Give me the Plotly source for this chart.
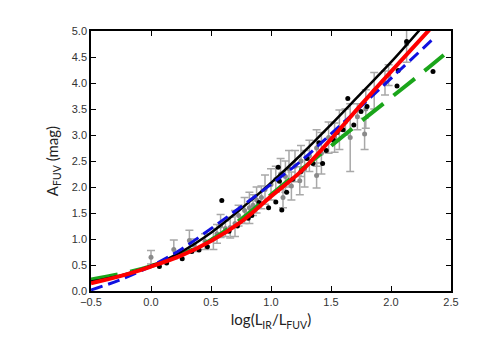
import plotly.graph_objects as go

# gray points with error bars: log(LIR/LFUV), A_FUV, error
gray_x = [0.00, 0.19, 0.32, 0.36, 0.45, 0.52, 0.55, 0.58, 0.62, 0.66, 0.70, 0.73,
          0.78, 0.82, 0.85, 0.88, 0.92, 0.95, 1.00, 1.04, 1.08, 1.10, 1.12, 1.15,
          1.17, 1.20, 1.24, 1.25, 1.28, 1.32, 1.38, 1.38, 1.42, 1.48, 1.53, 1.57,
          1.62, 1.66, 1.72, 1.78, 1.79, 1.86, 1.95, 1.98, 2.13]
gray_y = [0.65, 0.80, 0.97, 0.88, 0.95, 1.00, 1.10, 1.25, 1.20, 1.22, 1.30, 1.45,
          1.55, 1.60, 1.65, 1.75, 1.80, 1.95, 2.05, 2.15, 2.25, 1.80, 2.20, 2.35,
          2.02, 2.40, 2.12, 2.50, 2.35, 2.60, 2.75, 2.22, 2.65, 2.95, 2.95, 3.10,
          3.25, 2.95, 3.35, 3.02, 3.50, 3.85, 4.00, 4.15, 4.75]
gray_err = [0.13, 0.18, 0.20, 0.12, 0.15, 0.20, 0.18, 0.22, 0.15, 0.20, 0.25, 0.20,
            0.25, 0.30, 0.20, 0.25, 0.22, 0.28, 0.30, 0.25, 0.30, 0.20, 0.30, 0.35,
            0.27, 0.30, 0.27, 0.30, 0.35, 0.30, 0.35, 0.24, 0.40, 0.30, 0.28, 0.38,
            0.25, 0.65, 0.25, 0.30, 0.37, 0.35, 0.23, 0.20, 0.35]

# black points
blk_x = [0.07, 0.13, 0.26, 0.34, 0.40, 0.47, 0.59, 0.65, 0.72, 0.81, 0.84, 0.90,
         0.98, 1.04, 1.06, 1.07, 1.09, 1.13, 1.18, 1.25, 1.30, 1.35, 1.40, 1.43,
         1.46, 1.52, 1.55, 1.60, 1.64, 1.69, 1.75, 1.80, 2.05, 2.06, 2.13, 2.35]
blk_y = [0.47, 0.54, 0.62, 0.76, 0.79, 0.85, 1.74, 1.15, 1.25, 1.40, 1.45, 1.70,
         1.60, 1.71, 2.38, 2.11, 1.56, 1.90, 2.15, 2.30, 2.55, 2.45, 2.85, 2.45,
         2.70, 2.90, 3.05, 3.10, 3.70, 3.19, 3.45, 3.55, 3.94, 4.24, 4.80, 4.22]

# relations
black_x = [-0.5, -0.25, 0.0, 0.25, 0.5, 0.75, 1.0, 1.25, 1.5, 1.75, 2.0, 2.25]
black_y = [0.18, 0.30, 0.48, 0.75, 1.12, 1.58, 2.08, 2.62, 3.20, 3.80, 4.40, 5.05]
red_x = [-0.5, -0.25, 0.0, 0.25, 0.5, 0.75, 1.0, 1.25, 1.5, 1.75, 2.0, 2.33]
red_y = [0.15, 0.29, 0.47, 0.68, 0.96, 1.33, 1.82, 2.30, 2.92, 3.58, 4.22, 5.05]
blue_x = [-0.5, -0.25, 0.0, 0.25, 0.5, 0.75, 1.0, 1.25, 1.5, 1.75, 2.0, 2.375]
blue_y = [0.02, 0.22, 0.48, 0.80, 1.20, 1.62, 2.05, 2.50, 3.02, 3.55, 4.09, 4.90]
green_x = [-0.5, -0.25, 0.0, 0.25, 0.5, 0.75, 1.0, 1.25, 1.5, 1.75, 2.0, 2.25, 2.44]
green_y = [0.22, 0.33, 0.48, 0.70, 0.98, 1.38, 1.85, 2.33, 2.79, 3.26, 3.72, 4.18, 4.54]

x_ticks = [-0.5, 0.0, 0.5, 1.0, 1.5, 2.0, 2.5]
y_ticks = [0.0, 0.5, 1.0, 1.5, 2.0, 2.5, 3.0, 3.5, 4.0, 4.5, 5.0]

fig = go.Figure()
fig.add_trace(go.Scatter(x=gray_x, y=gray_y, mode="markers",
                         marker=dict(color="#8a8a8a", size=5),
                         error_y=dict(type="data", array=gray_err, color="#a8a8a8",
                                      thickness=1.5, width=4)))
fig.add_trace(go.Scatter(x=blk_x, y=blk_y, mode="markers",
                         marker=dict(color="black", size=5)))
fig.add_trace(go.Scatter(x=green_x, y=green_y, mode="lines",
                         line=dict(color="#1aa51a", width=4, dash="27px,13px", shape="spline")))
fig.add_trace(go.Scatter(x=black_x, y=black_y, mode="lines",
                         line=dict(color="black", width=2.5, shape="spline")))
fig.add_trace(go.Scatter(x=blue_x, y=blue_y, mode="lines",
                         line=dict(color="#1010e0", width=3, dash="12px,6px", shape="spline")))
fig.add_trace(go.Scatter(x=red_x, y=red_y, mode="lines",
                         line=dict(color="#ff0000", width=4, shape="spline")))

axis_style = dict(showline=True, mirror="ticks", linecolor="black", linewidth=1.5,
                  ticks="inside", ticklen=5, tickcolor="black", showgrid=False,
                  zeroline=False, tickformat=".1f",
                  tickfont=dict(family="Liberation Sans, Arial", size=11, color="#333333"))

fig.update_xaxes(range=[-0.5, 2.5], tickvals=x_ticks, **axis_style,
                 title=dict(text="log(L<sub>IR</sub>/L<sub>FUV</sub>)",
                            font=dict(family="Lato, Open Sans", size=15, color="#222222"),
                            standoff=8))
fig.update_yaxes(range=[0, 5], tickvals=y_ticks, **axis_style,
                 title=dict(text="A<sub>FUV</sub> (mag)",
                            font=dict(family="Lato, Open Sans", size=15, color="#222222"),
                            standoff=10))

fig.update_layout(width=491, height=347, showlegend=False,
                  plot_bgcolor="white", paper_bgcolor="white",
                  margin=dict(l=83, r=48, t=23, b=64))

fig.write_html("out.html")
